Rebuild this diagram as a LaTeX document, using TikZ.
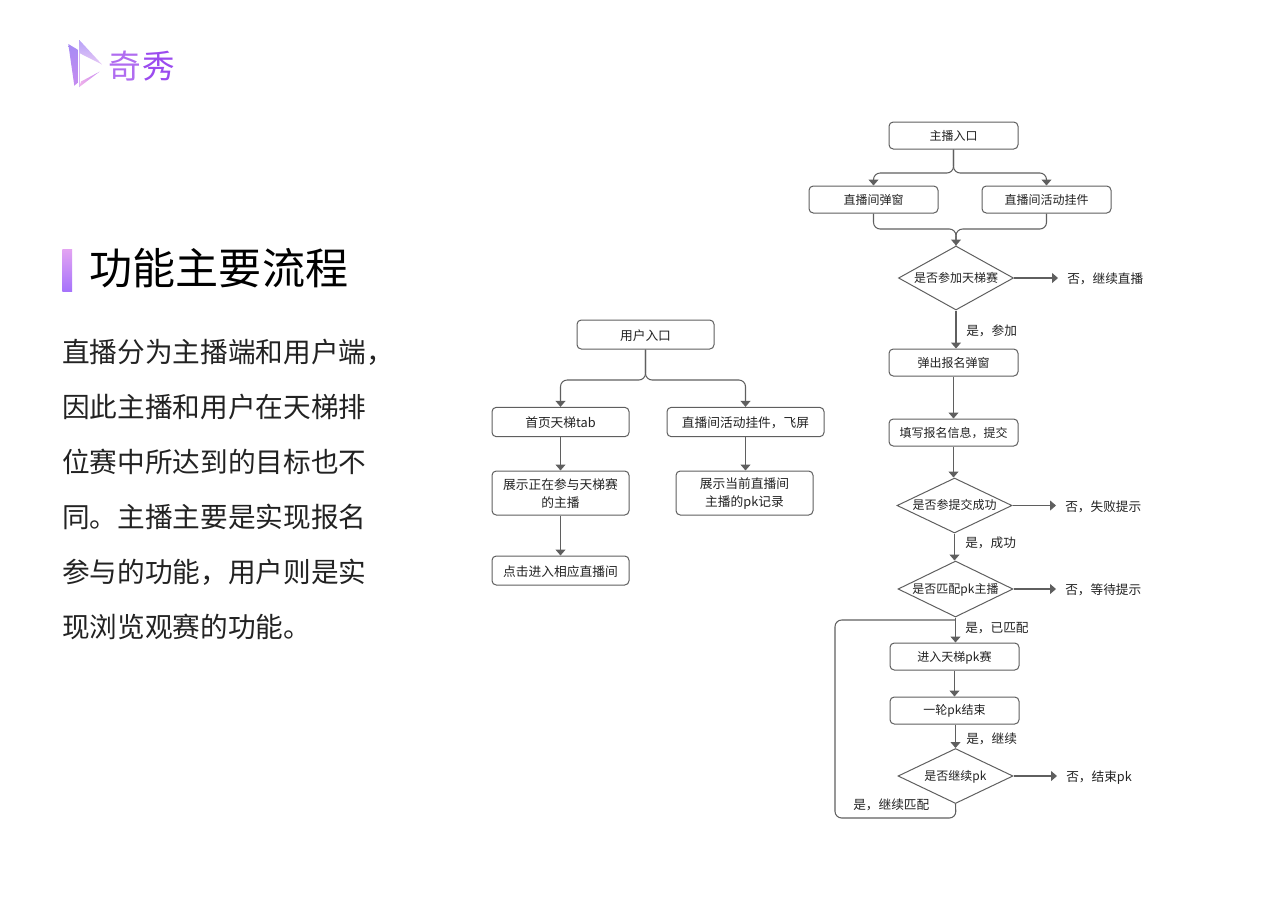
\documentclass[tikz,border=0pt]{standalone}
\usepackage{fontspec}
\setmainfont{Noto Sans CJK SC}
\usetikzlibrary{arrows.meta,shapes.geometric}
\definecolor{linec}{HTML}{5F5F5F}
\definecolor{txtc}{HTML}{222222}
\definecolor{lgA}{HTML}{A78BF5}
\definecolor{lgB}{HTML}{C58BEF}
\definecolor{lgC}{HTML}{B7A2F8}
\definecolor{lgD}{HTML}{E6C8F5}
\definecolor{lgE}{HTML}{F0B2EA}
\definecolor{lgF}{HTML}{C98DF2}
\definecolor{lgG}{HTML}{D8B9F5}
\definecolor{lgH}{HTML}{B06CF0}
\definecolor{lgI}{HTML}{9B4BEF}
\definecolor{barA}{HTML}{E3A4F2}
\definecolor{barB}{HTML}{A673FB}
\newcommand{\zwc}{\char"FF0C\relax}
\newcommand{\mvtext}[1]{\raisebox{-0.6pt}[\height][\depth]{#1}}
\newcommand{\dlabel}[1]{\makebox[0pt][c]{\raisebox{-3.3pt}[0pt][0pt]{#1}}}
\tikzset{
  flowbox/.style={draw=linec,line width=.75pt,rounded corners=3.2pt,fill=white,text=txtc,font=\fontsize{9}{13}\selectfont,align=center,inner sep=0pt,minimum width=#1*.75pt},
  flowboxleft/.style={flowbox=#1,font=\fontsize{9.55}{13.4}\selectfont},
  dia/.style={draw=linec,line width=.75pt,diamond,aspect=2,inner sep=0pt,text=txtc,font=\fontsize{9}{13}\selectfont,minimum width=115*.75pt,minimum height=#1*.75pt},
  lab/.style={text=txtc,font=\fontsize{9.5}{13}\selectfont,inner sep=0pt,anchor=west},
  conn/.style={draw=linec,line width=.8pt,-{Triangle[width=7.5pt,length=4.5pt]}},
  plainconn/.style={draw=linec,line width=.8pt},
}
\begin{document}
\begin{tikzpicture}[x=.75pt,y=-.75pt]
\useasboundingbox (0,0) rectangle (1280,908);
% logo
\shade[top color=lgA,bottom color=lgB] (68.3,44) -- (77.5,49.5) -- (77.5,83) -- (74.3,85.7) -- cycle;
\shade[top color=lgC,bottom color=lgD] (79.3,40) -- (102,64.5) -- (79.3,53) -- cycle;
\shade[left color=lgE,right color=lgF] (79.3,87) -- (99.5,71.7) -- (81,81.5) -- cycle;
\draw[color=lgG,line width=.6pt] (79,53) -- (79,87);
\node[text=lgH,font=\fontsize{24.5}{25}\selectfont,inner sep=0pt] (logoa) at (125,66) {奇};
\node[text=lgI,font=\fontsize{24.5}{25}\selectfont,inner sep=0pt] (logob) at (159,66) {秀};
% heading
\shade[top color=barA,bottom color=barB] (62.3,249) rectangle (72,291);
\node[anchor=west,inner sep=0pt,text=black,font=\fontsize{32.3}{40}\selectfont] (title) at (89.5,268) {功能主要流程};
\node[anchor=west,inner sep=0pt,text=txtc,align=left,font=\fontsize{20.75}{41.25}\selectfont] (body) at (62,489.5) {直播分为主播端和用户端\zwc\\因此主播和用户在天梯排\\位赛中所达到的目标也不\\同。主播主要是实现报名\\参与的功能\zwc 用户则是实\\现浏览观赛的功能。};
% left graph
\node[flowboxleft=137,minimum height=21.75pt] (u0) at (645.5,334.5) {\mvtext{用户入口}};
\node[flowboxleft=137,minimum height=22pt] (u1) at (560.5,422) {\mvtext{首页天梯tab}};
\node[flowboxleft=157,minimum height=22pt] (u2) at (745.5,422) {\mvtext{直播间活动挂件\zwc 飞屏}};
\node[flowboxleft=137,minimum height=33pt] (u3) at (560.5,493) {\mvtext{展示正在参与天梯赛}\\\mvtext{的主播}};
\node[flowboxleft=137,minimum height=33pt] (u4) at (744.5,493) {\mvtext{展示当前直播间}\\\mvtext{主播的pk记录}};
\node[flowboxleft=137,minimum height=21.75pt] (u5) at (560.5,570.5) {\mvtext{点击进入相应直播间}};
\coordinate (uj) at (645.5,380);
\draw[conn,rounded corners=5pt] (u0.south) -- (uj) -- (u1.north |- uj) -- (u1.north);
\draw[conn,rounded corners=5pt] (u0.south) -- (uj) -- (u2.north |- uj) -- (u2.north);
\draw[conn] (u1) -- (u3);
\draw[conn] (u2.south) -- (u2.south |- u4.north);
\draw[conn] (u3) -- (u5);
% right graph
\node[flowbox=129,minimum height=20.25pt] (a0) at (953.5,135.5) {\mvtext{主播入口}};
\node[flowbox=129,minimum height=20.25pt] (a1) at (873.5,199.5) {\mvtext{直播间弹窗}};
\node[flowbox=129,minimum height=20.25pt] (a2) at (1046.5,199.5) {\mvtext{直播间活动挂件}};
\node[dia=64] (d1) at (956,278) {\dlabel{是否参加天梯赛}};
\node[flowbox=129,minimum height=20.25pt] (a3) at (953.5,362.5) {\mvtext{弹出报名弹窗}};
\node[flowbox=129,minimum height=20.25pt] (a4) at (953.5,432.5) {\mvtext{填写报名信息\zwc 提交}};
\node[dia=55] (d2) at (954.5,505.5) {\dlabel{是否参提交成功}};
\node[dia=56] (d3) at (955.5,589) {\dlabel{是否匹配pk主播}};
\node[flowbox=129,minimum height=20.25pt] (a5) at (954.5,656.5) {\mvtext{进入天梯pk赛}};
\node[flowbox=129,minimum height=20.25pt] (a6) at (954.5,710.5) {\mvtext{一轮pk结束}};
\node[dia=55] (d4) at (955.5,776) {\dlabel{是否继续pk}};
\coordinate (aj) at (953.5,173);
\draw[conn,rounded corners=5pt] (a0.south) -- (aj) -- (a1.north |- aj) -- (a1.north);
\draw[conn,rounded corners=5pt] (a0.south) -- (aj) -- (a2.north |- aj) -- (a2.north);
\coordinate (bj) at (956,229);
\draw[plainconn,rounded corners=5pt] (a1.south) -- (a1.south |- bj) -- (bj) -- (d1.north);
\draw[conn,rounded corners=5pt] (a2.south) -- (a2.south |- bj) -- (bj) -- (d1.north);
\draw[conn] (d1.south) -- (d1.south |- a3.north);
\draw[conn] (a3) -- (a4);
\draw[conn] (a4.south) -- (a4.south |- d2.north);
\draw[conn] (d2.south) -- (d2.south |- d3.north);
\draw[conn] (d3.south) -- (d3.south |- a5.north);
\draw[conn] (a5) -- (a6);
\draw[conn] (a6.south -| d4.north) -- (d4.north);
\coordinate (n1) at (1058,278);
\coordinate (n2) at (1056,505.5);
\coordinate (n3) at (1056,589);
\coordinate (n4) at (1057,776);
\draw[conn] (d1.east) -- (n1);
\draw[conn] (d2.east) -- (n2);
\draw[conn] (d3.east) -- (n3);
\draw[conn] (d4.east) -- (n4);
\coordinate (l1) at (956,818);
\coordinate (l2) at (835,818);
\coordinate (l3) at (835,620);
\coordinate (l4) at (955.5,620);
\draw[plainconn,rounded corners=5pt] (d4.south) -- (l1) -- (l2) -- (l3) -- (l4);
% labels
\node[lab] (t1) at (1067,279) {否\zwc 继续直播};
\node[lab] (t2) at (966,331) {是\zwc 参加};
\node[lab] (t3) at (1065,507) {否\zwc 失败提示};
\node[lab] (t4) at (965,543) {是\zwc 成功};
\node[lab] (t5) at (1065,590) {否\zwc 等待提示};
\node[lab] (t6) at (965,628.5) {是\zwc 已匹配};
\node[lab] (t7) at (966,739) {是\zwc 继续};
\node[lab] (t8) at (1066,777.5) {否\zwc 结束pk};
\node[lab] (t9) at (853,805) {是\zwc 继续匹配};
\end{tikzpicture}
\end{document}
